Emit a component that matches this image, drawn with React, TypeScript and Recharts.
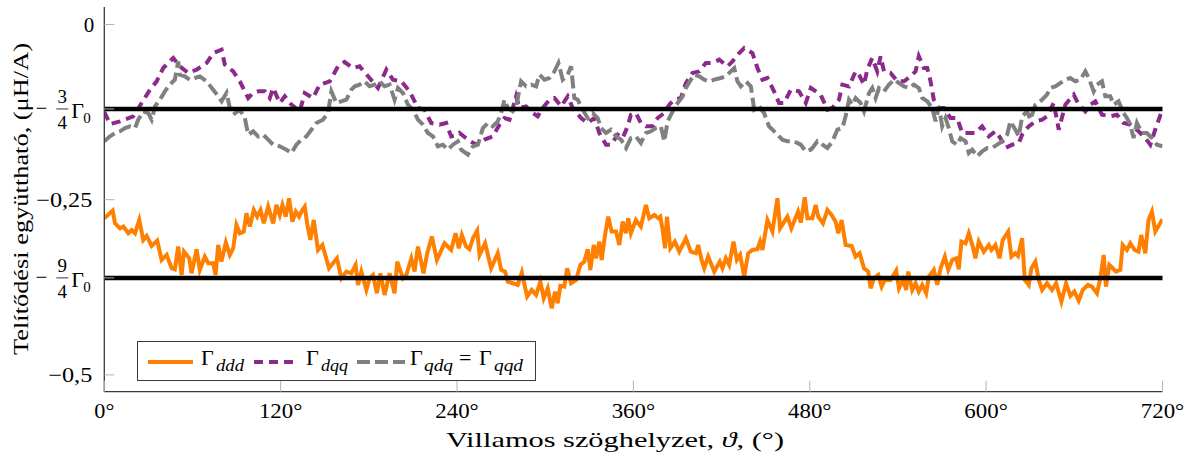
import React from "react";
import { LineChart, Line, XAxis, YAxis, ReferenceLine } from "recharts";

const gamma0 = 0.1607;
const level1 = -0.75 * gamma0;
const level2 = -2.25 * gamma0;

const xTicks = [0, 120, 240, 360, 480, 600, 720];
const yTicks = [-0.5, level2, -0.25, level1, 0];

const dddPoints: [number, number][] = [
  [0,-0.2765],[5.7,-0.2656],[7.3,-0.2837],[10.7,-0.2908],[13.0,-0.2884],[16.3,-0.2979],[18.6,-0.2932],[20.9,-0.2979],[23.8,-0.2789],[26.5,-0.3074],[28.8,-0.3017],[32.2,-0.3160],[36.0,-0.3084],[39.0,-0.3360],[42.4,-0.3288],[45.8,-0.3478],[48.0,-0.3493],[50.3,-0.3169],[52.6,-0.3574],[54.2,-0.3241],[57.8,-0.3336],[59.4,-0.3550],[62.8,-0.3207],[65.0,-0.3502],[68.4,-0.3312],[70.7,-0.3407],[74.1,-0.3407],[75.7,-0.3574],[77.5,-0.3146],[79.7,-0.3383],[82.7,-0.3112],[85.4,-0.3288],[87.7,-0.3193],[89.9,-0.2860],[92.2,-0.2979],[94.9,-0.2955],[96.7,-0.2694],[99.0,-0.2884],[101.7,-0.2646],[104.0,-0.2741],[106.3,-0.2646],[108.5,-0.2837],[111.5,-0.2599],[114.9,-0.2837],[117.1,-0.2575],[119.4,-0.2718],[121.2,-0.2575],[123.5,-0.2741],[125.7,-0.2480],[128.0,-0.2813],[130.3,-0.2670],[132.5,-0.2741],[134.1,-0.2670],[136.4,-0.2599],[138.0,-0.2837],[140.2,-0.3074],[142.5,-0.2789],[145.4,-0.3217],[148.4,-0.3146],[152.9,-0.3478],[158.3,-0.3336],[161.3,-0.3621],[164.7,-0.3526],[168.1,-0.3550],[171.0,-0.3431],[172.6,-0.3716],[174.9,-0.3526],[178.3,-0.3788],[180.5,-0.3621],[182.8,-0.3574],[185.5,-0.3835],[187.8,-0.3550],[190.7,-0.3859],[194.1,-0.3550],[197.5,-0.3835],[199.3,-0.3383],[203.2,-0.3621],[205.5,-0.3574],[208.9,-0.3336],[211.1,-0.3526],[213.4,-0.3169],[217.2,-0.3550],[219.7,-0.3264],[222.9,-0.3027],[226.3,-0.3360],[231.5,-0.3122],[236.0,-0.3217],[239.0,-0.2979],[241.2,-0.3193],[243.3,-0.3003],[246.2,-0.3169],[248.5,-0.3207],[250.8,-0.3050],[253.7,-0.2941],[255.3,-0.3288],[259.1,-0.3122],[263.2,-0.3478],[267.7,-0.3264],[270.0,-0.3502],[272.7,-0.3526],[274.5,-0.3669],[277.9,-0.3692],[281.3,-0.3716],[284.1,-0.3540],[287.7,-0.3883],[290.8,-0.3788],[293.8,-0.3859],[296.7,-0.3669],[299.0,-0.3906],[301.7,-0.3764],[304.4,-0.4049],[306.7,-0.3811],[308.5,-0.3978],[310.3,-0.3730],[313.0,-0.3740],[314.9,-0.3478],[317.6,-0.3692],[321.0,-0.3645],[323.9,-0.3431],[326.6,-0.3383],[328.9,-0.3207],[330.7,-0.3502],[333.0,-0.3146],[334.6,-0.3336],[336.8,-0.3098],[338.4,-0.3360],[340.7,-0.3003],[342.9,-0.2741],[345.2,-0.2955],[348.2,-0.2955],[350.4,-0.3146],[352.7,-0.2813],[354.9,-0.2979],[356.5,-0.2765],[358.3,-0.2979],[361.7,-0.2789],[365.1,-0.2884],[368.5,-0.2575],[370.8,-0.2765],[374.2,-0.2718],[376.9,-0.2765],[378.3,-0.2741],[379.9,-0.2932],[381.5,-0.3193],[382.8,-0.2741],[385.1,-0.3193],[388.2,-0.3098],[391.2,-0.3241],[395.7,-0.3050],[399.1,-0.3241],[402.5,-0.3264],[404.1,-0.3146],[406.4,-0.3360],[408.2,-0.3478],[410.9,-0.3312],[415.0,-0.3526],[418.8,-0.3383],[420.6,-0.3478],[422.9,-0.3336],[425.2,-0.3431],[428.1,-0.3098],[430.4,-0.3360],[432.6,-0.3288],[435.4,-0.3597],[438.1,-0.3264],[441.0,-0.3217],[444.4,-0.3207],[446.2,-0.3098],[447.8,-0.3217],[451.2,-0.2789],[454.6,-0.2955],[458.0,-0.2480],[459.8,-0.2908],[464.8,-0.2741],[467.5,-0.2908],[472.0,-0.2670],[473.9,-0.2827],[476.6,-0.2466],[478.4,-0.2765],[481.8,-0.2765],[484.0,-0.2575],[485.8,-0.2741],[489.0,-0.2837],[492.0,-0.2646],[494.9,-0.2718],[497.6,-0.2813],[499.4,-0.2979],[501.7,-0.2789],[504.4,-0.3146],[508.5,-0.3160],[511.2,-0.3312],[513.9,-0.3264],[516.9,-0.3478],[519.8,-0.3526],[521.4,-0.3764],[523.7,-0.3621],[526.6,-0.3574],[528.9,-0.3740],[531.1,-0.3645],[535.0,-0.3645],[538.8,-0.3512],[540.7,-0.3764],[543.4,-0.3645],[545.6,-0.3788],[547.0,-0.3526],[549.7,-0.3788],[552.0,-0.3692],[554.2,-0.3811],[556.5,-0.3716],[559.2,-0.3835],[561.0,-0.3597],[564.4,-0.3502],[566.7,-0.3716],[569.0,-0.3478],[571.9,-0.3312],[574.2,-0.3502],[576.9,-0.3360],[579.6,-0.3336],[581.4,-0.3493],[583.2,-0.3098],[586.0,-0.3122],[588.2,-0.2979],[590.9,-0.3169],[592.7,-0.3336],[595.0,-0.3098],[598.4,-0.3241],[601.8,-0.3146],[603.6,-0.3217],[606.3,-0.3146],[609.1,-0.3336],[611.3,-0.3074],[615.0,-0.2955],[617.2,-0.3312],[619.9,-0.3264],[621.7,-0.3303],[624.5,-0.3050],[626.3,-0.3645],[629.0,-0.3716],[630.8,-0.3478],[633.5,-0.3383],[635.8,-0.3645],[638.1,-0.3788],[641.4,-0.3692],[644.8,-0.3788],[647.6,-0.3692],[651.2,-0.3954],[654.4,-0.3692],[657.3,-0.3873],[660.0,-0.3811],[663.0,-0.3940],[665.7,-0.3788],[669.3,-0.3716],[672.0,-0.3740],[675.4,-0.3835],[677.7,-0.3621],[680.0,-0.3288],[681.5,-0.3740],[683.8,-0.3431],[686.1,-0.3478],[688.3,-0.3526],[691.3,-0.3502],[692.9,-0.3146],[695.8,-0.3217],[698.1,-0.3122],[701.0,-0.3217],[703.7,-0.3241],[705.5,-0.3003],[708.3,-0.3264],[710.5,-0.2789],[712.8,-0.2670],[715.1,-0.2955],[720,-0.2779]
];

const dqqPoints: [number, number][] = [
  [0,-0.1249],[3.9,-0.1420],[10.7,-0.1382],[19.7,-0.1310],[25.4,-0.1120],[31.1,-0.0930],[35.6,-0.0811],[40.1,-0.0621],[43.5,-0.0549],[46.9,-0.0478],[51.4,-0.0597],[57.1,-0.0692],[62.8,-0.0644],[69.6,-0.0549],[74.1,-0.0407],[79.8,-0.0359],[82.0,-0.0573],[87.7,-0.0668],[92.2,-0.0811],[97.9,-0.1049],[101.3,-0.0977],[104.7,-0.0954],[109.2,-0.0954],[112.6,-0.1049],[114.9,-0.0906],[119.4,-0.1120],[122.8,-0.1025],[127.3,-0.1144],[133.0,-0.1239],[136.4,-0.0977],[142.0,-0.1049],[146.6,-0.0858],[153.4,-0.0811],[159.0,-0.0597],[163.5,-0.0535],[169.2,-0.0621],[173.7,-0.0597],[180.5,-0.0763],[186.2,-0.0906],[191.9,-0.0644],[196.4,-0.0787],[202.1,-0.0811],[207.7,-0.0954],[213.4,-0.1191],[217.9,-0.1215],[222.4,-0.1405],[228.1,-0.1429],[232.6,-0.1405],[236.0,-0.1596],[240.6,-0.1572],[241.7,-0.1548],[247.4,-0.1643],[253.0,-0.1715],[258.7,-0.1643],[264.3,-0.1596],[268.9,-0.1429],[272.3,-0.1334],[275.7,-0.1358],[280.2,-0.1025],[282.5,-0.1191],[287.0,-0.1168],[291.5,-0.1263],[294.9,-0.1310],[298.3,-0.1191],[302.9,-0.1073],[306.3,-0.1049],[310.8,-0.1168],[315.3,-0.1025],[318.7,-0.1191],[324.4,-0.1334],[328.9,-0.1405],[333.4,-0.1334],[336.8,-0.1548],[341.4,-0.1715],[344.8,-0.1715],[349.3,-0.1572],[352.7,-0.1620],[356.1,-0.1453],[358.3,-0.1287],[361.7,-0.1263],[365.1,-0.1405],[368.5,-0.1453],[373.1,-0.1453],[376.5,-0.1334],[381.0,-0.1263],[384.4,-0.1144],[387.8,-0.1073],[392.3,-0.1049],[395.7,-0.0835],[400.2,-0.0692],[404.8,-0.0668],[409.3,-0.0549],[413.8,-0.0549],[418.4,-0.0502],[424.0,-0.0597],[427.4,-0.0526],[432.0,-0.0407],[435.4,-0.0335],[441.0,-0.0407],[444.4,-0.0621],[447.8,-0.0787],[451.2,-0.0763],[455.7,-0.0954],[459.1,-0.1120],[462.5,-0.1120],[467.1,-0.0930],[472.7,-0.0954],[477.3,-0.1120],[480.7,-0.0906],[487.4,-0.1001],[492.0,-0.1215],[495.4,-0.1191],[499.9,-0.1073],[502.2,-0.0858],[506.7,-0.0882],[511.2,-0.0668],[513.5,-0.0716],[516.9,-0.0858],[519.1,-0.0644],[522.5,-0.0478],[525.9,-0.0668],[528.2,-0.0454],[530.5,-0.0668],[535.0,-0.0692],[539.5,-0.0811],[544.1,-0.0811],[548.6,-0.0740],[552.0,-0.0668],[554.2,-0.0454],[557.6,-0.0621],[559.9,-0.0621],[562.2,-0.0811],[564.4,-0.1073],[567.8,-0.1191],[571.2,-0.1191],[575.8,-0.1334],[580.3,-0.1334],[583.7,-0.1548],[588.2,-0.1548],[592.7,-0.1548],[597.3,-0.1453],[601.8,-0.1596],[606.3,-0.1524],[609.7,-0.1620],[613.1,-0.1762],[617.7,-0.1715],[622.2,-0.1691],[624.5,-0.1572],[629.0,-0.1453],[633.5,-0.1382],[638.1,-0.1358],[641.4,-0.1310],[646.0,-0.1120],[649.4,-0.1501],[653.9,-0.1144],[659.6,-0.1001],[663.0,-0.1144],[667.5,-0.1239],[670.9,-0.1144],[674.3,-0.1096],[678.8,-0.1287],[684.5,-0.1310],[689.0,-0.1287],[693.5,-0.1405],[698.1,-0.1429],[703.7,-0.1524],[708.3,-0.1620],[711.7,-0.1715],[716.2,-0.1429],[720,-0.1215]
];

const qdqPoints: [number, number][] = [
  [0,-0.1667],[3.9,-0.1596],[7.3,-0.1548],[10.7,-0.1524],[14.1,-0.1477],[17.5,-0.1453],[20.9,-0.1477],[23.1,-0.1358],[26.5,-0.1239],[29.9,-0.1263],[32.2,-0.1358],[34.5,-0.1168],[37.8,-0.1073],[41.2,-0.0954],[44.6,-0.0858],[48.0,-0.0787],[50.3,-0.0526],[51.4,-0.0716],[54.8,-0.0740],[58.2,-0.0787],[61.6,-0.0763],[65.0,-0.0740],[69.6,-0.0811],[74.1,-0.0930],[77.5,-0.1025],[79.8,-0.1096],[83.2,-0.0977],[85.4,-0.1191],[87.7,-0.1287],[92.2,-0.1215],[95.6,-0.1334],[97.9,-0.1572],[101.3,-0.1524],[104.7,-0.1596],[108.1,-0.1572],[111.5,-0.1643],[114.9,-0.1715],[119.4,-0.1738],[123.9,-0.1786],[127.3,-0.1834],[130.7,-0.1715],[134.1,-0.1643],[137.5,-0.1596],[140.9,-0.1501],[144.3,-0.1405],[148.8,-0.1358],[152.2,-0.1263],[154.5,-0.0954],[157.9,-0.1120],[161.3,-0.1096],[164.7,-0.1073],[168.1,-0.0930],[170.4,-0.0882],[173.7,-0.0858],[177.1,-0.0811],[180.5,-0.0882],[183.9,-0.0858],[187.3,-0.0811],[190.7,-0.0882],[194.1,-0.0858],[197.5,-0.1073],[199.8,-0.0906],[203.2,-0.0977],[206.6,-0.1144],[210.0,-0.1215],[213.4,-0.1358],[216.8,-0.1429],[220.2,-0.1548],[223.6,-0.1596],[227.0,-0.1738],[230.4,-0.1715],[233.8,-0.1786],[237.2,-0.1715],[240.6,-0.1667],[242.8,-0.1786],[247.4,-0.1857],[250.8,-0.1738],[254.2,-0.1715],[257.6,-0.1477],[261.0,-0.1405],[264.3,-0.1453],[267.7,-0.1382],[270.0,-0.1263],[272.3,-0.1073],[274.5,-0.1191],[277.9,-0.1239],[280.2,-0.1168],[283.6,-0.0811],[287.0,-0.0882],[290.4,-0.0858],[293.8,-0.0882],[296.1,-0.0716],[299.5,-0.0787],[302.9,-0.0763],[306.3,-0.0668],[309.0,-0.0549],[311.9,-0.0787],[315.3,-0.0716],[317.6,-0.0597],[319.8,-0.1049],[322.1,-0.1073],[325.5,-0.1215],[328.9,-0.1334],[332.3,-0.1263],[335.7,-0.1334],[338.0,-0.1477],[341.4,-0.1548],[344.8,-0.1501],[348.2,-0.1596],[351.6,-0.1643],[355.0,-0.1762],[358.3,-0.1620],[361.7,-0.1596],[365.1,-0.1691],[368.5,-0.1548],[371.9,-0.1524],[375.3,-0.1477],[378.7,-0.1453],[381.0,-0.1667],[383.3,-0.1382],[386.7,-0.1239],[390.1,-0.1120],[393.5,-0.1025],[395.7,-0.0906],[399.1,-0.0787],[401.4,-0.0716],[404.8,-0.0740],[408.2,-0.0787],[411.6,-0.0811],[415.0,-0.0787],[419.5,-0.0763],[422.9,-0.0740],[426.3,-0.0668],[428.6,-0.0621],[430.8,-0.0811],[433.1,-0.0882],[436.5,-0.0811],[439.9,-0.0882],[442.2,-0.1215],[445.5,-0.1168],[448.9,-0.1263],[452.3,-0.1453],[454.6,-0.1501],[458.0,-0.1572],[461.4,-0.1643],[464.8,-0.1667],[469.3,-0.1667],[473.9,-0.1715],[477.3,-0.1810],[480.7,-0.1786],[481.8,-0.1762],[485.2,-0.1667],[488.6,-0.1715],[492.0,-0.1762],[495.4,-0.1667],[498.8,-0.1501],[502.2,-0.1477],[504.4,-0.1310],[506.7,-0.1073],[509.0,-0.1144],[511.2,-0.1049],[514.6,-0.1120],[516.9,-0.1239],[520.3,-0.0977],[522.5,-0.0906],[524.8,-0.1049],[527.1,-0.0906],[530.5,-0.0954],[533.9,-0.0858],[537.3,-0.0787],[540.7,-0.0835],[544.1,-0.0882],[547.5,-0.0906],[550.8,-0.0858],[554.2,-0.0906],[556.5,-0.1049],[559.9,-0.1096],[563.3,-0.1191],[565.6,-0.1382],[567.8,-0.1168],[570.1,-0.1453],[572.4,-0.1334],[574.6,-0.1477],[576.9,-0.1667],[580.3,-0.1715],[582.6,-0.1620],[586.0,-0.1667],[588.2,-0.1834],[590.5,-0.1786],[593.9,-0.1881],[597.3,-0.1810],[600.7,-0.1762],[604.1,-0.1762],[607.5,-0.1715],[610.9,-0.1667],[614.3,-0.1572],[616.5,-0.1382],[619.9,-0.1501],[622.2,-0.1596],[624.5,-0.1310],[627.9,-0.1239],[630.1,-0.1358],[633.5,-0.1144],[638.1,-0.1073],[641.4,-0.1001],[643.7,-0.0906],[647.1,-0.0882],[650.5,-0.0835],[653.9,-0.0787],[657.3,-0.0763],[660.7,-0.0811],[664.1,-0.0787],[667.5,-0.0668],[669.8,-0.0763],[673.2,-0.0954],[675.4,-0.0858],[678.8,-0.0811],[681.1,-0.1025],[684.5,-0.1025],[686.7,-0.1144],[690.1,-0.1096],[693.5,-0.1263],[695.8,-0.1334],[698.1,-0.1429],[700.3,-0.1620],[702.6,-0.1405],[706.0,-0.1548],[709.4,-0.1548],[712.8,-0.1620],[716.2,-0.1715],[720,-0.1738]
];

const dddData = dddPoints.map(([deg, v]) => ({ deg, v }));
const dqqData = dqqPoints.map(([deg, v]) => ({ deg, v }));
const qdqData = qdqPoints.map(([deg, v]) => ({ deg, v }));

const FONT = "'Liberation Serif', serif";
const TICK_COLOR = "#b4b4b4";
const FRAME = "#3a3a3a";
const ORANGE = "#ff8000";
const PURPLE = "#8b2a8b";
const GRAY = "#808080";

const near = (a: number, b: number) => Math.abs(a - b) < 1e-6;

const YTickLeft = (props: any) => {
  const { x, y, payload } = props;
  const v = payload.value as number;
  const tick = <line x1={x} x2={x + 10} y1={y} y2={y} stroke={TICK_COLOR} strokeWidth={1} />;
  if (near(v, level1) || near(v, level2)) {
    const num = near(v, level1) ? "3" : "9";
    return (
      <g fontFamily={FONT} fill="#000">
        {tick}
        <text x={x - 63} y={y + 6} fontSize={21} textAnchor="middle">−</text>
        <text x={x - 42} y={y - 6} fontSize={19} textAnchor="middle">{num}</text>
        <line x1={x - 48} x2={x - 36} y1={y} y2={y} stroke="#000" strokeWidth={0.8} />
        <text x={x - 42} y={y + 20} fontSize={19} textAnchor="middle">4</text>
        <text x={x - 33} y={y + 9} fontSize={22}>Γ</text>
        <text x={x - 21} y={y + 14} fontSize={15}>0</text>
      </g>
    );
  }
  const label = near(v, 0) ? "0" : near(v, -0.25) ? "−0,25" : "−0,5";
  const len = near(v, 0) ? undefined : near(v, -0.25) ? 56 : 44;
  return (
    <g fontFamily={FONT} fill="#000">
      {tick}
      <text
        x={near(v, 0) ? x - 10 : x - 12}
        y={y + 7}
        fontSize={21}
        textAnchor="end"
        textLength={len}
        lengthAdjust="spacingAndGlyphs"
      >
        {label}
      </text>
    </g>
  );
};

const YTickRight = (props: any) => {
  const { x, y } = props;
  return <line x1={x} x2={x - 10} y1={y} y2={y} stroke={TICK_COLOR} strokeWidth={1} />;
};

const XTickBottom = (props: any) => {
  const { x, y, payload } = props;
  const v = payload.value as number;
  return (
    <g fontFamily={FONT} fill="#000">
      <line x1={x} x2={x} y1={y} y2={y - 11} stroke={TICK_COLOR} strokeWidth={1} />
      <text
        x={x}
        y={y + 26}
        fontSize={21}
        textAnchor="middle"
        textLength={v === 0 ? 20 : 43.5}
        lengthAdjust="spacingAndGlyphs"
      >{`${v}°`}</text>
    </g>
  );
};

const XTickTop = (props: any) => {
  const { x, y } = props;
  return <line x1={x} x2={x} y1={y} y2={y + 11} stroke={TICK_COLOR} strokeWidth={1} />;
};

const XTitle = () => (
  <text
    x={615}
    y={447}
    fontFamily={FONT}
    fontSize={22}
    textAnchor="middle"
    fill="#000"
    textLength={338}
    lengthAdjust="spacingAndGlyphs"
  >
    Villamos szöghelyzet, <tspan fontStyle="italic">ϑ</tspan>, (°)
  </text>
);

const YTitle = () => (
  <text
    x={28}
    y={199}
    transform="rotate(-90 28 199)"
    fontFamily={FONT}
    fontSize={22}
    textAnchor="middle"
    fill="#000"
    textLength={312}
    lengthAdjust="spacingAndGlyphs"
  >
    Telítődési együttható, (μH/A)
  </text>
);

const LegendBox = () => (
  <div
    style={{
      position: "absolute",
      left: 137,
      top: 341,
      width: 399,
      height: 40,
      border: `1px solid ${FRAME}`,
      background: "#fff",
      boxSizing: "border-box",
    }}
  >
    <svg width={399} height={40} style={{ display: "block" }} fontFamily={FONT}>
      <line x1={10} x2={55} y1={20} y2={20} stroke={ORANGE} strokeWidth={4} />
      <text x={63} y={23} fontSize={22}>Γ</text>
      <text x={78} y={29} fontSize={17} fontStyle="italic" textLength={28} lengthAdjust="spacingAndGlyphs">ddd</text>
      <line x1={116} x2={155} y1={20} y2={20} stroke={PURPLE} strokeWidth={4} strokeDasharray="9 6" />
      <text x={168} y={23} fontSize={22}>Γ</text>
      <text x={183} y={29} fontSize={17} fontStyle="italic" textLength={27} lengthAdjust="spacingAndGlyphs">dqq</text>
      <line x1={219} x2={267} y1={20} y2={20} stroke={GRAY} strokeWidth={4} strokeDasharray="13 5" />
      <text x={272} y={23} fontSize={22}>Γ</text>
      <text x={286} y={29} fontSize={17} fontStyle="italic" textLength={29} lengthAdjust="spacingAndGlyphs">qdq</text>
      <text x={321} y={23} fontSize={22}>=</text>
      <text x={341} y={23} fontSize={22}>Γ</text>
      <text x={356} y={29} fontSize={17} fontStyle="italic" textLength={29} lengthAdjust="spacingAndGlyphs">qqd</text>
    </svg>
  </div>
);

export default function App() {
  return (
    <div style={{ position: "absolute", left: 0, top: 0, width: 1194, height: 462, background: "#fff" }}>
      <LineChart
        width={1194}
        height={462}
        margin={{ top: 7, right: 31.5, bottom: 0, left: 0 }}
      >
        <XAxis
          dataKey="deg"
          type="number"
          domain={[0, 720]}
          ticks={xTicks}
          interval={0}
          height={70.3}
          tickSize={0}
          tickMargin={0}
          tickLine={false}
          axisLine={{ stroke: FRAME, strokeWidth: 1.3 }}
          tick={<XTickBottom />}
          label={<XTitle />}
          allowDataOverflow
        />
        <XAxis
          xAxisId="top"
          orientation="top"
          dataKey="deg"
          type="number"
          domain={[0, 720]}
          ticks={xTicks}
          interval={0}
          height={0}
          tickSize={0}
          tickMargin={0}
          tickLine={false}
          axisLine={{ stroke: FRAME, strokeWidth: 1.3 }}
          tick={<XTickTop />}
          allowDataOverflow
        />
        <YAxis
          type="number"
          domain={[-0.524, 0.025]}
          ticks={yTicks}
          interval={0}
          width={104.3}
          tickSize={0}
          tickMargin={0}
          tickLine={false}
          axisLine={{ stroke: FRAME, strokeWidth: 1.3 }}
          tick={<YTickLeft />}
          label={<YTitle />}
          allowDataOverflow
        />
        <YAxis
          yAxisId="right"
          orientation="right"
          type="number"
          domain={[-0.524, 0.025]}
          ticks={yTicks}
          interval={0}
          width={0}
          tickSize={0}
          tickMargin={0}
          tickLine={false}
          axisLine={{ stroke: FRAME, strokeWidth: 1.3 }}
          tick={<YTickRight />}
          allowDataOverflow
        />
        <Line
          data={dddData}
          dataKey="v"
          type="linear"
          stroke={ORANGE}
          strokeWidth={4}
          dot={false}
          isAnimationActive={false}
        />
        <Line
          data={dqqData}
          dataKey="v"
          type="linear"
          stroke={PURPLE}
          strokeWidth={4}
          strokeDasharray="9 6"
          dot={false}
          isAnimationActive={false}
        />
        <Line
          data={qdqData}
          dataKey="v"
          type="linear"
          stroke={GRAY}
          strokeWidth={4}
          strokeDasharray="13 5"
          dot={false}
          isAnimationActive={false}
        />
        <ReferenceLine y={level1} stroke="#000" strokeWidth={4.5} />
        <ReferenceLine y={level2} stroke="#000" strokeWidth={4.5} />
      </LineChart>
      <LegendBox />
    </div>
  );
}
